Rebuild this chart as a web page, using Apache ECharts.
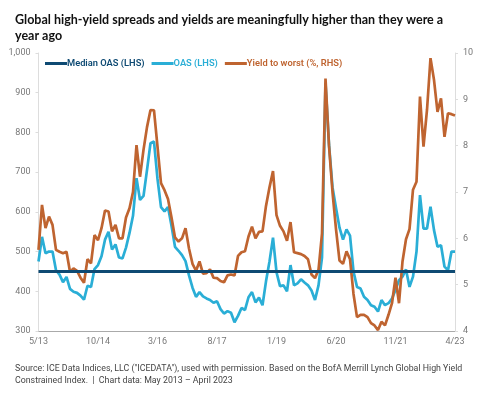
<!DOCTYPE html>
<html>
<head>
<meta charset="utf-8">
<script src="https://cdn.jsdelivr.net/npm/echarts@6/dist/echarts.min.js"></script>
<style>
html,body{margin:0;padding:0;background:#fff;}
#chart{width:493px;height:399px;}
</style>
</head>
<body>
<div id="chart"></div>
<script>
// Monthly, May 2013 .. April 2023
const startYear = 2013, startMonth = 5;
const months = [];
for (let k = 0; k < 120; k++) {
  const m = (startMonth - 1 + k) % 12 + 1;
  const y = startYear + Math.floor((startMonth - 1 + k) / 12);
  months.push(m + '/' + String(y).slice(2));
}
const tickLabels = ['5/13','10/14','3/16','8/17','1/19','6/20','11/21','4/23'];

const medianOAS = 450;

const oas = [
  475,537,496,500,500,453,442,423,436,406,
  399,396,389,379,414,411,456,466,488,530,
  550,505,518,485,483,510,547,590,685,630,
  640,705,773,777,683,612,601,612,565,512,
  502,491,476,440,409,386,398,387,382,378,
  371,375,355,344,350,346,322,338,358,353,
  385,398,372,384,365,425,475,535,448,413,
  415,400,466,415,420,430,422,415,402,378,
  415,485,925,770,662,610,560,530,556,540,
  450,411,407,386,378,365,361,349,378,365,
  370,382,403,428,437,455,411,437,500,642,
  558,558,613,554,512,516,462,453,500,500
];

const ytw = [
  5.75,6.72,6.22,6.47,6.29,5.75,5.71,5.68,5.71,5.28,
  5.35,5.30,5.15,5.04,5.55,5.46,6.07,5.96,6.22,6.60,
  6.58,6.15,6.29,6.00,6.00,6.45,6.65,7.00,8.01,7.33,
  7.91,8.40,8.77,8.76,7.98,7.19,7.04,6.85,6.45,6.02,
  5.93,6.00,6.22,5.78,5.45,5.30,5.50,5.24,5.25,5.33,
  5.15,5.14,5.08,5.05,5.20,5.22,5.20,5.62,5.70,5.72,
  6.04,6.25,6.00,6.14,6.15,6.70,7.10,7.45,6.50,6.27,
  6.15,5.95,6.35,5.70,5.68,5.66,5.62,5.55,5.22,5.14,
  5.32,6.10,9.45,8.00,7.00,6.20,5.52,5.45,5.72,5.55,
  4.80,4.30,4.35,4.35,4.30,4.17,4.12,4.02,4.20,4.12,
  4.35,4.60,5.15,4.60,5.50,5.98,6.20,7.05,7.22,9.06,
  7.98,8.77,9.89,9.42,8.73,9.02,8.19,8.70,8.68,8.65
];

const C_MED = '#0e4a73', C_OAS = '#2aaed6', C_YTW = '#bf6430';
const FONT = 'Roboto';

const chart = echarts.init(document.getElementById('chart'));
chart.setOption({
  animation: false,
  textStyle: { fontFamily: FONT },
  title: [
    {
      text: 'Global high-yield spreads and yields are meaningfully higher than they were a\nyear ago',
      left: 10, top: 7,
      textStyle: { fontFamily: 'Lato', fontSize: 12.5, fontWeight: 'bold', color: '#111', lineHeight: 16 }
    },
    {
      text: 'Source: ICE Data Indices, LLC ("ICEDATA"), used with permission. Based on the BofA Merrill Lynch Global High Yield\nConstrained Index.  |  Chart data: May 2013 \u2013 April 2023',
      left: 10, top: 358,
      textStyle: { fontFamily: FONT, fontSize: 8.8, fontWeight: 'normal', color: '#444', lineHeight: 12 }
    }
  ],
  legend: {
    left: 40, top: 54,
    itemWidth: 22, itemHeight: 3, itemGap: 7,
    icon: 'rect',
    textStyle: { fontFamily: FONT, fontSize: 9.3, fontWeight: 600, padding: [0,0,0,-5] },
    data: [
      { name: 'Median OAS (LHS)', textStyle: { color: C_MED } },
      { name: 'OAS (LHS)', textStyle: { color: C_OAS } },
      { name: 'Yield to worst (%, RHS)', textStyle: { color: C_YTW } }
    ]
  },
  grid: { left: 38.5, right: 38, top: 53, bottom: 68 },
  xAxis: {
    type: 'category',
    data: months,
    boundaryGap: false,
    axisLine: { lineStyle: { color: '#aaa', width: 1 } },
    axisTick: { show: false },
    axisLabel: {
      interval: 16, color: '#777', fontSize: 9, margin: 6,
      formatter: v => tickLabels.includes(v) ? v : ''
    },
    splitLine: { show: false }
  },
  yAxis: [
    {
      type: 'value', min: 300, max: 1000, interval: 100,
      axisLine: { show: true, lineStyle: { color: '#ddd' } },
      axisTick: { show: true, length: 3, lineStyle: { color: '#ddd' } },
      axisLabel: { color: '#777', fontSize: 9, margin: 8,
        formatter: v => v >= 1000 ? '1,000' : String(v) },
      splitLine: { show: false }
    },
    {
      type: 'value', min: 4, max: 10, interval: 1,
      axisLine: { show: true, lineStyle: { color: '#ddd' } },
      axisTick: { show: true, length: 3, lineStyle: { color: '#ddd' } },
      axisLabel: { color: '#777', fontSize: 9, margin: 8 },
      splitLine: { show: false }
    }
  ],
  series: [
    {
      name: 'Median OAS (LHS)', type: 'line', yAxisIndex: 0, data: [],
      color: C_MED, z: 5,
      markLine: {
        silent: true, symbol: 'none', label: { show: false },
        lineStyle: { color: C_MED, width: 3, type: 'solid' },
        data: [{ yAxis: medianOAS }]
      }
    },
    {
      name: 'OAS (LHS)', type: 'line', yAxisIndex: 0, data: oas,
      color: C_OAS, showSymbol: false, lineStyle: { width: 2.7, color: C_OAS }, z: 2
    },
    {
      name: 'Yield to worst (%, RHS)', type: 'line', yAxisIndex: 1, data: ytw,
      color: C_YTW, showSymbol: false, lineStyle: { width: 2.7, color: C_YTW }, z: 3
    }
  ]
});
</script>
</body>
</html>
